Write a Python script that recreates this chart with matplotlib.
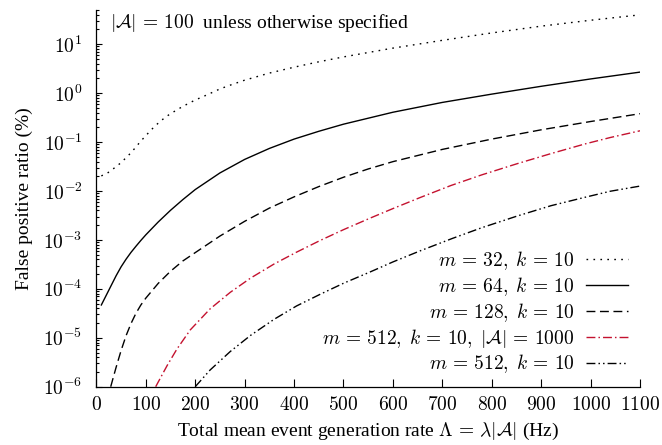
"""
plot.py — false positive ratio vs. total mean event generation rate.

Values are read off the reference figure (log-scale y axis, in %).
"""

import math

import matplotlib

matplotlib.use("Agg")
import matplotlib.pyplot as plt
from matplotlib.ticker import FuncFormatter, LogLocator, MultipleLocator, NullLocator

# ── Data ─────────────────────────────────────────────────────────────────────
rate_m32 = [10, 20, 30, 40, 50, 60, 70, 80, 90, 100, 110, 120, 130, 140, 150, 175, 200,
            225, 250, 275, 300, 350, 400, 450, 500, 600, 700, 800, 900, 1000, 1100]
fpr_m32 = [0.0204, 0.0224, 0.0263, 0.0316, 0.0380, 0.0479, 0.0603, 0.0794, 0.105, 0.135,
           0.174, 0.219, 0.269, 0.324, 0.380, 0.537, 0.724, 0.933, 1.22, 1.51, 1.84,
           2.57, 3.39, 4.37, 5.50, 8.32, 12.0, 17.0, 23.4, 30.9, 39.8]

rate_m64 = [10, 20, 30, 40, 50, 60, 70, 80, 90, 100, 125, 150, 175, 200, 250, 300, 350,
            400, 450, 500, 600, 700, 800, 900, 1000, 1100]
fpr_m64 = [4.68e-5, 7.41e-5, 1.175e-4, 1.86e-4, 2.82e-4, 4.03e-4, 5.56e-4, 7.41e-4, 9.77e-4,
           1.27e-3, 2.32e-3, 4.03e-3, 6.68e-3, 0.0107, 0.0234, 0.0442, 0.0741, 0.115, 0.166,
           0.232, 0.407, 0.646, 0.955, 1.38, 1.95, 2.69]

rate_m128 = [29, 35, 40, 50, 60, 70, 80, 90, 100, 125, 150, 175, 200, 250, 300, 350, 400,
             450, 500, 550, 600, 700, 800, 900, 1000, 1100]
fpr_m128 = [1.0e-6, 1.66e-6, 2.51e-6, 5.50e-6, 1.10e-5, 1.95e-5, 3.16e-5, 4.68e-5, 6.46e-5,
            1.29e-4, 2.29e-4, 3.72e-4, 5.50e-4, 1.20e-3, 2.40e-3, 4.47e-3, 7.59e-3, 0.0123,
            0.0191, 0.0282, 0.0398, 0.0708, 0.115, 0.178, 0.263, 0.380]

rate_m512_a1000 = [120, 143, 163, 190, 230, 271, 312, 360, 405, 453, 500, 555, 600, 656,
                   717, 780, 852, 920, 988, 1040, 1100]
fpr_m512_a1000 = [1.0e-6, 2.69e-6, 5.89e-6, 1.45e-5, 3.89e-5, 8.51e-5, 1.66e-4, 3.24e-4,
                  5.62e-4, 9.77e-4, 1.62e-3, 2.82e-3, 4.37e-3, 7.41e-3, 0.0129, 0.0214,
                  0.0363, 0.0582, 0.0912, 0.124, 0.170]

rate_m512 = [200, 230, 271, 312, 360, 405, 453, 500, 555, 600, 656, 720, 780, 852, 920,
             988, 1040, 1100]
fpr_m512 = [1.0e-6, 2.19e-6, 5.25e-6, 1.12e-5, 2.40e-5, 4.47e-5, 7.76e-5, 1.30e-4, 2.24e-4,
            3.55e-4, 6.03e-4, 1.07e-3, 1.78e-3, 3.09e-3, 5.01e-3, 7.41e-3, 9.89e-3, 0.0126]

labels = [
    r"$m\,=\,32,\;k\,=\,10$",
    r"$m\,=\,64,\;k\,=\,10$",
    r"$m\,=\,128,\;k\,=\,10$",
    r"$m\,=\,512,\;k\,=\,10,\;|\mathcal{A}|\,=\,1000$",
    r"$m\,=\,512,\;k\,=\,10$",
]

RED = "#c4122f"
FS = 14

# ── Style ─────────────────────────────────────────────────────────────────────
plt.rcParams["font.family"] = ["Liberation Serif", "DejaVu Serif"]
plt.rcParams["mathtext.fontset"] = "cm"
plt.rcParams["font.size"] = FS

fig = plt.figure(figsize=(6.62, 4.45), dpi=100)
ax = fig.add_axes([0.1456, 0.131, 0.8212, 0.8465])

ax.plot(rate_m32, fpr_m32, color="black", lw=1.0, linestyle=(0, (1.2, 3.8)), label=labels[0])
ax.plot(rate_m64, fpr_m64, color="black", lw=1.0, linestyle="-", label=labels[1])
ax.plot(rate_m128, fpr_m128, color="black", lw=1.0, linestyle=(0, (6.4, 3.3)), label=labels[2])
ax.plot(rate_m512_a1000, fpr_m512_a1000, color=RED, lw=1.0,
        linestyle=(0, (6.4, 2.2, 1.1, 2.2)), label=labels[3])
ax.plot(rate_m512, fpr_m512, color="black", lw=1.0,
        linestyle=(0, (6.4, 2.2, 1.1, 2.2, 1.1, 2.2)), label=labels[4])

ax.set_yscale("log")
ax.set_xlim(0, 1100)
ax.set_ylim(1e-6, 50)

ax.xaxis.set_major_locator(MultipleLocator(100))
ax.xaxis.set_minor_locator(NullLocator())
ax.xaxis.set_major_formatter(FuncFormatter(lambda v, _: r"$%d$" % round(v)))
ax.yaxis.set_major_locator(LogLocator(base=10, numticks=20))
ax.yaxis.set_minor_locator(LogLocator(base=10, subs=range(2, 10), numticks=20))
ax.yaxis.set_major_formatter(FuncFormatter(lambda v, _: r"$10^{%d}$" % round(math.log10(v))))

ax.tick_params(which="both", direction="in", top=False, right=False, labelsize=FS, width=0.8)
ax.tick_params(axis="x", which="major", length=6, pad=7)
ax.tick_params(axis="y", which="major", length=4.5, pad=10)
ax.tick_params(axis="y", which="minor", length=2.5)

for side in ("top", "right"):
    ax.spines[side].set_visible(False)
for side in ("left", "bottom"):
    ax.spines[side].set_linewidth(0.9)

ax.set_ylabel("False positive ratio (%)", fontsize=FS, labelpad=7)
ax.set_xlabel(r"Total mean event generation rate $\Lambda\,=\,\lambda|\mathcal{A}|$ (Hz)",
              fontsize=FS, labelpad=5)

ax.text(0.025, 0.995, r"$|\mathcal{A}|\,=\,100\;$ unless otherwise specified",
        transform=ax.transAxes, ha="left", va="top", fontsize=FS)

ax.legend(loc="lower right", bbox_to_anchor=(0.978, 0.03), frameon=False,
          markerfirst=False, handlelength=2.15, handletextpad=0.6,
          labelspacing=0.15, borderaxespad=0, borderpad=0, fontsize=FS)

fig.savefig("out.png", dpi=100)
